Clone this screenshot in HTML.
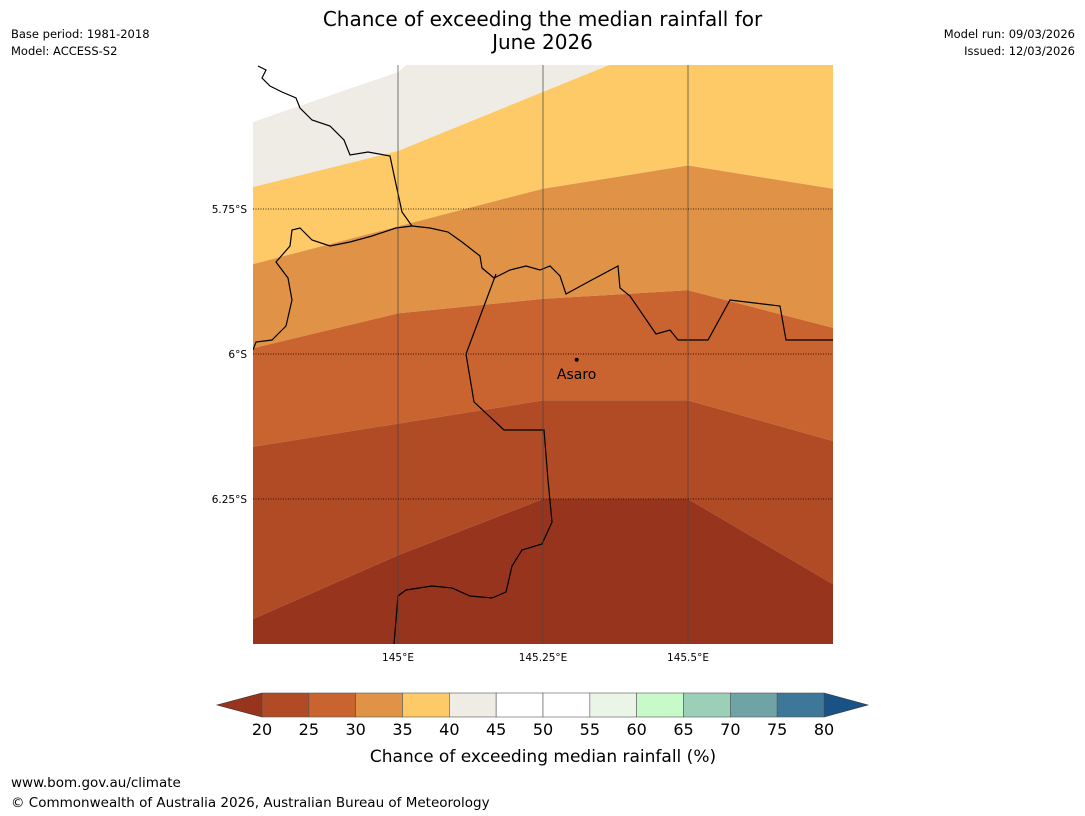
<!DOCTYPE html>
<html><head><meta charset="utf-8"><style>
body{margin:0;background:#fff;font-family:"Liberation Sans","DejaVu Sans",sans-serif;}
#wrap{position:relative;width:1085px;height:816px;overflow:hidden;}
.t{position:absolute;white-space:nowrap;}
</style></head><body>
<div id="wrap">
<div class="t" style="left:0;width:1085px;top:8px;text-align:center;font-size:20px;line-height:23px;font-family:'DejaVu Sans',sans-serif;">Chance of exceeding the median rainfall for<br>June 2026</div>
<div class="t" style="left:11px;top:27px;font-size:11.5px;font-family:'DejaVu Sans',sans-serif;">Base period: 1981-2018</div>
<div class="t" style="left:11px;top:44px;font-size:11.5px;font-family:'DejaVu Sans',sans-serif;">Model: ACCESS-S2</div>
<div class="t" style="right:10px;top:27px;font-size:11.5px;text-align:right;font-family:'DejaVu Sans',sans-serif;">Model run: 09/03/2026</div>
<div class="t" style="right:10px;top:44px;font-size:11.5px;text-align:right;font-family:'DejaVu Sans',sans-serif;">Issued: 12/03/2026</div>
<div class="t" style="left:11px;top:775px;font-size:13.5px;font-family:'DejaVu Sans',sans-serif;">www.bom.gov.au/climate</div>
<div class="t" style="left:11px;top:795px;font-size:13.5px;font-family:'DejaVu Sans',sans-serif;">© Commonwealth of Australia 2026, Australian Bureau of Meteorology</div>
<svg id="svg" width="1085" height="816" style="position:absolute;left:0;top:0"></svg>
</div>
<script>
const lonTicks=[145,145.25,145.5];
const lonLabels=["145°E","145.25°E","145.5°E"];
const latTicks=[5.75,6,6.25];
const latLabels=["5.75°S","6°S","6.25°S"];
const bandLons=[144.75,145,145.25,145.5,145.75];
const bandColors=["#96341e","#b04b25","#c96330","#e09346","#fdca67","#efebe5"];
const boundary1=[6.457,6.347,6.25,6.25,6.397]; // 20/25
const boundary2=[6.16,6.12,6.08,6.08,6.15]; // 25/30
const boundary3=[5.99,5.93,5.905,5.89,5.955]; // 30/35
const boundary4=[5.845,5.78,5.715,5.675,5.715]; // 35/40
const boundary5=[5.712,5.65,5.548,5.447,5.345]; // 40/45
const boundary6=[5.6,5.514,5.3,5.2,5.1]; // 45/50
const cbLevels=[20,25,30,35,40,45,50,55,60,65,70,75,80];
const cbColors=["#b04b25","#c96330","#e09346","#fdca67","#efebe5","#ffffff","#ffffff","#eaf5e8","#c8f9c8","#9ccfb8","#6fa3a5","#3e7797"];
const town={name:"Asaro",lon:145.308,lat:6.01};
const ns="http://www.w3.org/2000/svg";
const svg=document.getElementById('svg');
const X0=253,X1=833,Y0=65,Y1=644;
const x=lon=>X0+(lon-144.75)/1.0*(X1-X0);
const y=lat=>209+(lat-5.75)/0.25*145;
function mk(t,a){const e=document.createElementNS(ns,t);for(const k in a)e.setAttribute(k,a[k]);svg.appendChild(e);return e;}
const clip=mk('clipPath',{id:'mc'});
const cr=document.createElementNS(ns,'rect');cr.setAttribute('x',X0);cr.setAttribute('y',Y0);cr.setAttribute('width',X1-X0);cr.setAttribute('height',Y1-Y0);clip.appendChild(cr);
const g=mk('g',{'clip-path':'url(#mc)'});
function poly(top,bot,fill,name){
  let pts=[];
  bandLons.forEach((l,i)=>pts.push(x(l)+','+y(top?top[i]:5.0)));
  for(let i=bandLons.length-1;i>=0;i--)pts.push(x(bandLons[i])+','+(bot?y(bot[i]):Y1+10));
  const p=document.createElementNS(ns,'polygon');p.setAttribute('points',pts.join(' '));p.setAttribute('fill',fill);
  
  
  g.appendChild(p);
}
const r0=document.createElementNS(ns,'rect');r0.setAttribute('x',X0);r0.setAttribute('y',Y0);r0.setAttribute('width',X1-X0);r0.setAttribute('height',Y1-Y0);r0.setAttribute('fill','#fff');g.appendChild(r0);
poly(boundary6,boundary5,bandColors[5],'band-40-45');
poly(boundary5,boundary4,bandColors[4],'band-35-40');
poly(boundary4,boundary3,bandColors[3],'band-30-35');
poly(boundary3,boundary2,bandColors[2],'band-25-30');
poly(boundary2,boundary1,bandColors[1],'band-20-25');
poly(boundary1,null,bandColors[0],'band-below-20');
const border="M258,66 L266,70 L262,78 L270,86 L282,92 L296,98 L300,108 L312,120 L330,126 L344,140 L350,155 L368,152 L390,156 L394,175 L402,212 L412,226 L396,228 L372,236 L350,242 L330,246 L312,240 L300,228 L292,230 L290,246 L276,262 L288,278 L292,300 L286,326 L272,340 L256,342 L253,350";
const border2="M412,226 L430,228 L448,232 L462,242 L480,256 L482,268 L494,278 L510,270 L526,266 L540,270 L550,266 L560,276 L566,294 L588,282 L618,266 L620,288 L630,296 L656,334 L670,330 L678,340 L708,340 L730,300 L780,306 L786,340 L833,340";
const border3="M496,274 L466,354 L474,402 L504,430 L544,430 L548,480 L552,522 L542,544 L522,550 L512,566 L506,592 L492,598 L470,596 L452,588 L432,586 L406,590 L398,596 L394,644";
[border,border2,border3].forEach((d,i)=>{const p=document.createElementNS(ns,'path');p.setAttribute('d',d);p.setAttribute('fill','none');p.setAttribute('stroke','#000');p.setAttribute('stroke-width','1.2');


g.appendChild(p);});
lonTicks.forEach((l,i)=>{
  const ln=mk('line',{x1:x(l),x2:x(l),y1:Y0,y2:Y1,stroke:'#444','stroke-width':1,'stroke-opacity':0.7});
  
  
  const t=mk('text',{x:x(l),y:661,'text-anchor':'middle','font-size':10.5,'font-family':'DejaVu Sans, sans-serif'});t.textContent=lonLabels[i];
  
  
});
latTicks.forEach((l,i)=>{
  const ln=mk('line',{x1:X0,x2:X1,y1:y(l),y2:y(l),stroke:'#000','stroke-width':0.8,'stroke-dasharray':'1,1.5'});
  
  
  const t=mk('text',{x:247,y:y(l)+4,'text-anchor':'end','font-size':10.5,'font-family':'DejaVu Sans, sans-serif'});t.textContent=latLabels[i];
  
  
});
const dot=mk('circle',{cx:x(town.lon),cy:y(town.lat),r:2,fill:'#000'});


const tt=mk('text',{x:x(town.lon),y:y(town.lat)+19,'text-anchor':'middle','font-size':14,'font-family':'DejaVu Sans, sans-serif'});tt.textContent=town.name;


const CB0=262,CB1=824,CBY=693,CBH=24;
const cx=v=>CB0+(v-20)/60*(CB1-CB0);
const lt=mk('polygon',{points:`${CB0},${CBY} ${CB0},${CBY+CBH} 217,${CBY+CBH/2}`,fill:'#96341e',stroke:'#333','stroke-width':0.6});


const rt=mk('polygon',{points:`${CB1},${CBY} ${CB1},${CBY+CBH} 868,${CBY+CBH/2}`,fill:'#195286',stroke:'#333','stroke-width':0.6});


cbColors.forEach((c,i)=>{
  const r=mk('rect',{x:cx(cbLevels[i]),y:CBY,width:cx(cbLevels[i+1])-cx(cbLevels[i]),height:CBH,fill:c,stroke:'#555','stroke-width':0.6});
  
  
});
cbLevels.forEach(v=>{
  const t=mk('text',{x:cx(v),y:735,'text-anchor':'middle','font-size':16,'font-family':'DejaVu Sans, sans-serif'});t.textContent=v;
  
  
});
const ct=mk('text',{x:543,y:762,'text-anchor':'middle','font-size':17,'font-family':'DejaVu Sans, sans-serif'});ct.textContent="Chance of exceeding median rainfall (%)";


</script>
</body></html>
